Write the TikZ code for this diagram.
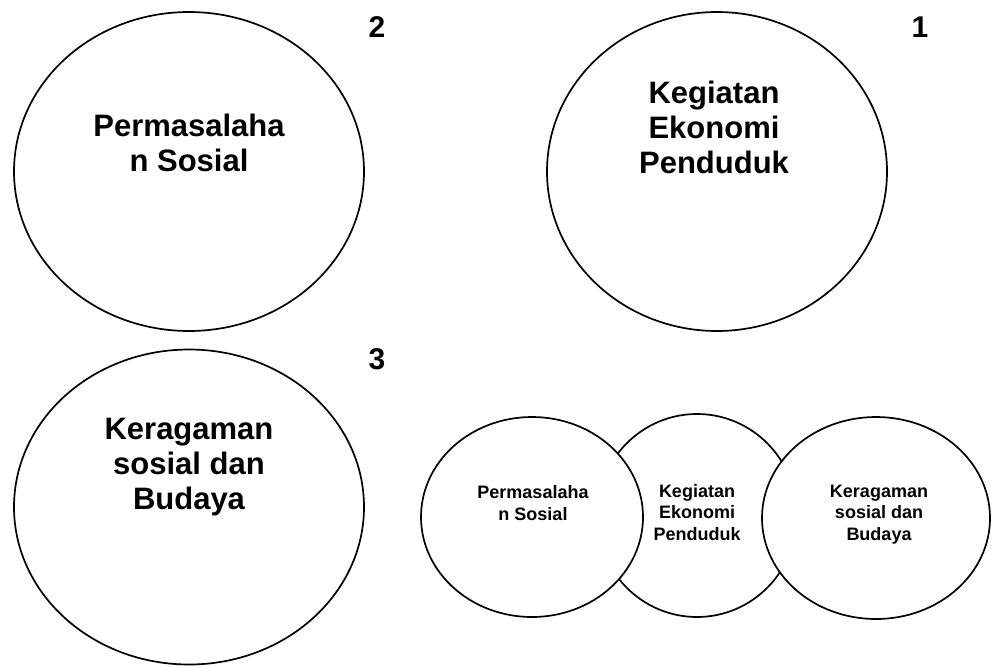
\documentclass[tikz,border=0pt]{standalone}
\usepackage{fontspec}
\setmainfont{Liberation Sans}
\colorlet{background}{white}
\colorlet{penColor}{black}
\tikzset{
	ring/.style={penColor, line width=1.7pt},
	bigText/.style={font=\bfseries\fontsize{31}{35}\selectfont, align=center, anchor=base, inner sep=0pt},
	smallText/.style={font=\bfseries\fontsize{18}{21.5}\selectfont, align=center, anchor=base, inner sep=0pt},
	numText/.style={font=\bfseries\fontsize{30}{34}\selectfont, anchor=base, inner sep=0pt}
}

\begin{document}
\begin{tikzpicture}[x=1pt,y=-1pt]
				\useasboundingbox (0,0) rectangle (993,665);
				\draw[ring] (189,171.5) ellipse (175 and 159.5);% circle 2
				\draw[ring] (717,171.5) ellipse (170 and 159.5);% circle 1
				\draw[ring] (189,507) ellipse (175 and 157.5);% circle 3
				\draw[ring, fill=background] (697,515.5) ellipse (100 and 101.5);% middle one sits behind
				\draw[ring, fill=background] (532,517) ellipse (111 and 100);
				\draw[ring, fill=background] (876,518) ellipse (114 and 101);
				\node[bigText, penColor] (masalah) at (189,171) {Permasalaha\\n Sosial};
				\node[bigText, penColor] (ekonomi) at (714,173) {Kegiatan\\Ekonomi\\Penduduk};
				\node[bigText, penColor] (ragam) at (189,509) {Keragaman\\sosial dan\\Budaya};
				\node[smallText, penColor] (masalahKecil) at (533,520) {Permasalaha\\n Sosial};
				\node[smallText, penColor] (ekonomiKecil) at (697,540) {Kegiatan\\Ekonomi\\Penduduk};
				\node[smallText, penColor] (ragamKecil) at (879,540) {Keragaman\\sosial dan\\Budaya};
				\node[numText, penColor] (nomorDua) at (377,37) {2};
				\node[numText, penColor] (nomorSatu) at (920,37) {1};
				\node[numText, penColor] (nomorTiga) at (377,369) {3};
\end{tikzpicture}
\end{document}
